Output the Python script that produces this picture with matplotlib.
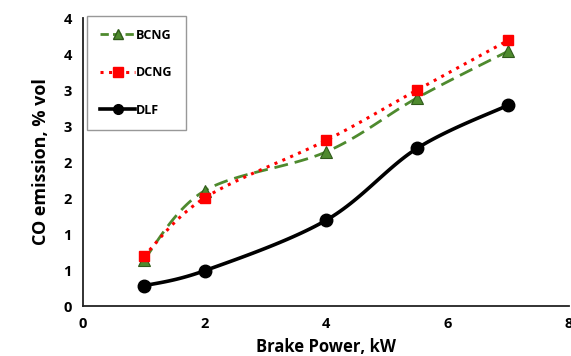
import numpy as np
import matplotlib
matplotlib.use("Agg")
import matplotlib.pyplot as plt
from matplotlib.ticker import FuncFormatter
from matplotlib.lines import Line2D

power = [1, 2, 4, 5.5, 7]
bcng = [0.64, 1.60, 2.14, 2.89, 3.54]
dcng = [0.69, 1.50, 2.30, 3.00, 3.69]
dlf = [0.28, 0.49, 1.19, 2.19, 2.79]
x_ticks = [0, 2, 4, 6, 8]
y_ticks = [0, 0.5, 1, 1.5, 2, 2.5, 3, 3.5, 4]


def smooth(x, y, n=30):
    x = np.asarray(x, float)
    y = np.asarray(y, float)
    pts = np.column_stack([x, y])
    out = []
    for i in range(len(pts) - 1):
        p0 = pts[i - 1] if i > 0 else pts[i]
        p1 = pts[i]
        p2 = pts[i + 1]
        p3 = pts[i + 2] if i + 2 < len(pts) else pts[i + 1]
        c1 = p1 + (p2 - p0) / 6
        c2 = p2 - (p3 - p1) / 6
        t = np.linspace(0, 1, n)[:, None]
        b = ((1 - t) ** 3) * p1 + 3 * ((1 - t) ** 2) * t * c1 + 3 * (1 - t) * t ** 2 * c2 + t ** 3 * p2
        out.append(b if i == 0 else b[1:])
    b = np.vstack(out)
    return b[:, 0], b[:, 1]


plt.rcParams['font.family'] = ['Open Sans', 'DejaVu Sans']
fig = plt.figure(figsize=(5.71, 3.56), dpi=100)
ax = fig.add_axes([0.1454, 0.1404, 0.851, 0.809])

green = '#4e8a2e'
red = '#ff0000'

sx, sy = smooth(power, bcng)
ax.plot(sx, sy, color=green, lw=2, ls=(0, (5, 2.5)))
ax.plot(power, bcng, ls='none', marker='^', ms=8, mfc=green, mec='#2f5a1a', mew=0.8)
sx, sy = smooth(power, dcng)
ax.plot(sx, sy, color=red, lw=2.2, ls=(0, (1, 1.8)))
ax.plot(power, dcng, ls='none', marker='s', ms=7.5, mfc=red, mec=red)
sx, sy = smooth(power, dlf)
ax.plot(sx, sy, color='black', lw=2.6)
ax.plot(power, dlf, ls='none', marker='o', ms=9, mfc='black', mec='black')

handles = [
    Line2D([], [], color=green, lw=2, ls=(0, (3, 1.5)), marker='^', ms=7, mfc=green, mec='#2f5a1a'),
    Line2D([], [], color=red, lw=2.2, ls=(0, (1, 1.8)), marker='s', ms=7, mfc=red, mec=red),
    Line2D([], [], color='black', lw=2.6, marker='o', ms=7, mfc='black'),
]
leg = ax.legend(handles, ['BCNG', 'DCNG', 'DLF'], loc='upper left',
                bbox_to_anchor=(0.008, 1.008), frameon=True, fancybox=False,
                edgecolor='#7f7f7f', labelspacing=1.95, handlelength=2.8,
                handletextpad=0.1, borderpad=1.05, borderaxespad=0,
                prop={'weight': 'bold', 'size': 9})
leg.get_frame().set_linewidth(1)

ax.set_xlim(0, 8)
ax.set_ylim(0, 4)
ax.set_xticks(x_ticks)
ax.set_yticks(y_ticks)
ax.yaxis.set_major_formatter(FuncFormatter(lambda v, p: '%d' % int(np.floor(v + 0.5))))
ax.tick_params(length=0, labelsize=10.5, pad=8)
for lab in ax.get_xticklabels() + ax.get_yticklabels():
    lab.set_fontweight('bold')
for s in ['top', 'right']:
    ax.spines[s].set_visible(False)
for s in ['left', 'bottom']:
    ax.spines[s].set_color('#222222')
    ax.spines[s].set_linewidth(1.3)

ax.set_xlabel('Brake Power, kW', fontsize=12, fontweight='bold', labelpad=5)
ax.set_ylabel('CO emission, % vol', fontsize=13, fontweight='bold', labelpad=10)

fig.savefig('out.png', dpi=100)
